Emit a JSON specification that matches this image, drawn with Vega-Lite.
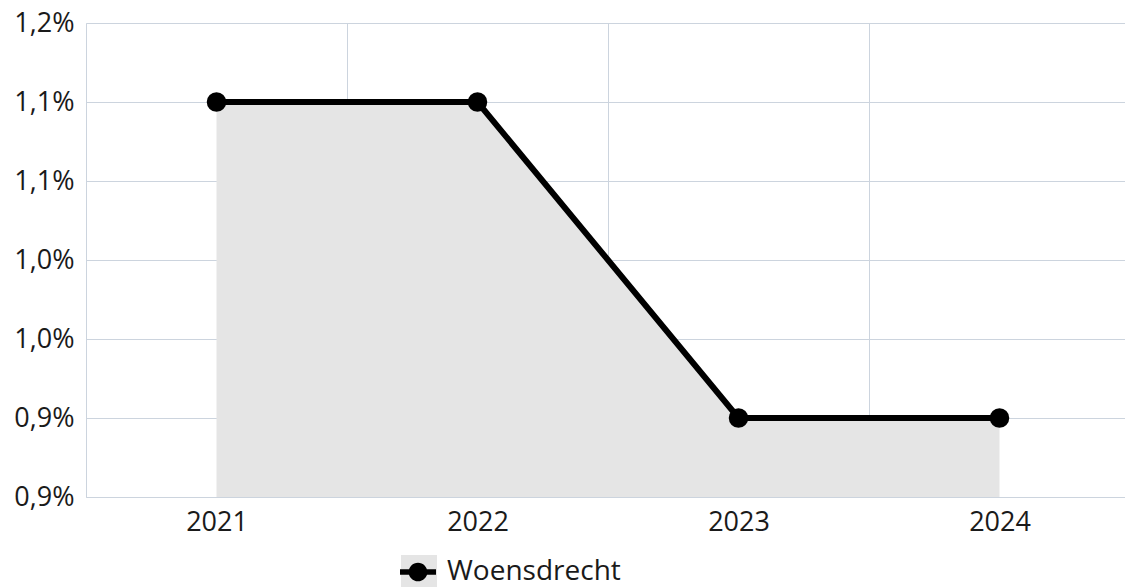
{
  "$schema": "https://vega.github.io/schema/vega-lite/v6.json",
  "autosize": {"type": "none"},
  "padding": {"left": 86, "top": 23, "right": 0, "bottom": 90},
  "width": 1039,
  "height": 474,
  "background": "white",
  "config": {
    "font": "Open Sans",
    "view": {"stroke": null},
    "axis": {"gridColor": "#ccd4de", "domainColor": "#ccd4de", "ticks": false, "labelFont": "Open Sans", "labelFontSize": 27, "labelColor": "#1a1a1a", "title": null}
  },
  "data": {"values": [
    {"jaar": "2021", "waarde": 1.1, "gemeente": "Woensdrecht"},
    {"jaar": "2022", "waarde": 1.1, "gemeente": "Woensdrecht"},
    {"jaar": "2023", "waarde": 0.9, "gemeente": "Woensdrecht"},
    {"jaar": "2024", "waarde": 0.9, "gemeente": "Woensdrecht"}
  ]},
  "encoding": {
    "x": {"field": "jaar", "type": "ordinal", "scale": {"type": "band", "paddingInner": 0, "paddingOuter": 0, "range": [0, 1044]},
      "axis": {"grid": true, "tickBand": "extent", "labelAngle": 0, "labelPadding": 12, "domain": true}},
    "y": {"field": "waarde", "type": "quantitative", "scale": {"domain": [0.85, 1.15], "zero": false, "nice": false},
      "axis": {"grid": true, "values": [0.85, 0.9, 0.95, 1.0, 1.05, 1.1, 1.15], "labelPadding": 12, "labelExpr": "replace(format(datum.value + 0.0001, '.1f'), '.', ',') + '%'"}}
  },
  "layer": [
    {
      "mark": {"type": "area", "opacity": 1},
      "encoding": {
        "y2": {"datum": 0.85},
        "fill": {"datum": "vlak", "type": "nominal", "scale": {"range": ["#e5e5e5"]},
          "legend": {"orient": "none", "legendX": 314, "legendY": 531, "title": null, "symbolType": "square", "symbolSize": 1296, "symbolOpacity": 1, "labelExpr": "''", "padding": 0, "labelOffset": 11, "labelFontSize": 28, "zindex": 0}}
      }
    },
    {
      "mark": {"type": "line", "strokeWidth": 6},
      "encoding": {
        "stroke": {"field": "gemeente", "type": "nominal", "scale": {"range": ["#000000"]},
          "legend": {"orient": "none", "legendX": 314, "legendY": 531, "title": null, "symbolType": "M-1,-0.15H1V0.15H-1Z M0.52,0A0.52,0.52 0 1 1 -0.52,0A0.52,0.52 0 1 1 0.52,0Z", "symbolSize": 1296, "symbolFillColor": "#000000", "symbolStrokeWidth": 0, "padding": 0, "labelOffset": 11, "labelFontSize": 28, "labelLimit": 0, "labelColor": "#1a1a1a", "labelFont": "Open Sans", "zindex": 1}}
      }
    },
    {
      "mark": {"type": "point", "filled": true, "color": "#000000", "size": 380, "opacity": 1}
    }
  ]
}
